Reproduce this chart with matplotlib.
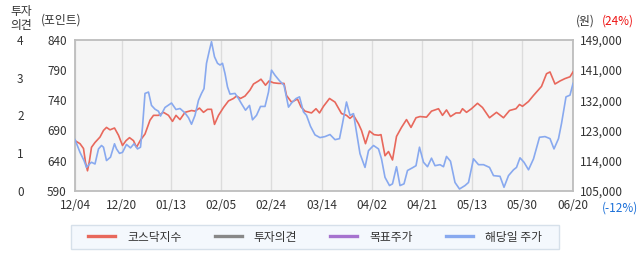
import matplotlib
matplotlib.use('Agg')
import matplotlib.pyplot as plt
from matplotlib.lines import Line2D
from matplotlib.patches import Rectangle

plt.rcParams['font.family'] = ['Noto Sans CJK KR', 'DejaVu Sans']

# x positions run 0..99.6 across the period (12/04 .. 06/20)
date_pos = [0, 9.3, 19.2, 29.2, 39.2, 49.4, 59.4, 69.4, 79.4, 89.4, 99.6]
date_labels = ['12/04', '12/20', '01/13', '02/05', '02/24', '03/14',
               '04/02', '04/21', '05/13', '05/30', '06/20']

# 코스닥지수 (points)
kosdaq_x = [0, 1, 1.7, 2.1, 2.5, 2.9, 3.3, 4, 5, 5.7, 6.3, 7, 7.9, 8.7, 9.5,
            10.2, 10.9, 11.7, 12.3, 13.1, 14, 15, 15.7, 16.7, 17.7, 18.7,
            19.5, 20.2, 21, 22, 23.3, 24, 24.9, 25.7, 26.5, 27.3, 27.9, 28.7,
            29.7, 30.7, 31.7, 32.3, 33.1, 34, 35, 35.7, 36.7, 37.2, 38.1,
            38.8, 39.7, 40.7, 41.8, 42.3, 43.3, 44.5, 45.2, 46, 47.3, 48.2,
            48.9, 49.7, 50.9, 52, 53.3, 54.3, 55, 55.7, 56.7, 57.3, 58.1,
            58.9, 59.8, 60.7, 61.2, 62, 62.7, 63.5, 64.3, 65.3, 66.3, 67.2,
            68.2, 69, 70.3, 71.3, 72.7, 73.5, 74.3, 75.1, 76.2, 77, 77.5,
            78.3, 79.3, 80.5, 81.5, 82.9, 84.3, 85.7, 86.9, 88.2, 88.9, 89.5,
            90.7, 91.7, 93.3, 94.3, 95, 96, 97, 98, 99, 99.6]
kosdaq = [673, 668, 660, 637, 623, 640, 662, 670, 679, 690, 695, 691, 694,
          682, 665, 673, 678, 673, 662, 674, 684, 707, 715, 715, 720, 715,
          705, 715, 708, 720, 723, 722, 727, 720, 725, 725, 700, 715, 728,
          739, 743, 747, 743, 747, 757, 767, 772, 775, 765, 772, 769, 768,
          768, 748, 737, 742, 729, 722, 719, 726, 719, 730, 743, 737, 718,
          715, 710, 715, 701, 690, 668, 689, 683, 682, 683, 648, 655, 641,
          680, 695, 708, 695, 711, 713, 712, 722, 726, 715, 724, 713, 719,
          719, 726, 720, 726, 735, 728, 711, 720, 711, 723, 726, 733, 730,
          738, 748, 763, 784, 787, 767, 772, 776, 779, 787]

# 해당일 주가 (won)
price_x = [0, 1, 1.8, 2.3, 2.9, 3.3, 4, 4.7, 5.3, 5.7, 6.3, 7.1, 7.9, 8.3,
           8.9, 9.5, 10.3, 11.1, 11.8, 12.5, 13.1, 13.5, 14, 14.7, 15.3, 16,
           16.7, 17.1, 18, 19.3, 20.2, 21, 22, 22.7, 23.3, 24, 24.7, 25.3,
           25.8, 26.3, 26.9, 27.3, 27.9, 28.5, 29, 29.5, 30, 30.5, 31, 32,
           32.7, 33.3, 34.1, 34.9, 35.5, 36.3, 37.1, 38, 38.7, 39.3, 40,
           40.9, 41.8, 42.7, 43.3, 44.2, 44.9, 45.7, 46.3, 47.1, 48, 49, 50,
           51, 52, 52.9, 53.5, 54.3, 55, 55.7, 56.3, 57, 58, 58.7, 59.7,
           60.7, 61.3, 62, 62.9, 63.5, 64.3, 65, 65.8, 66.5, 67.5, 68.2,
           68.9, 69.7, 70.5, 71.3, 72, 73, 73.7, 74.3, 75.1, 76, 76.9, 78,
           78.7, 79.7, 80.7, 81.7, 82.9, 83.7, 85, 85.8, 86.7, 87.7, 88.3,
           89, 89.8, 90.7, 91.7, 92.9, 94, 95, 95.8, 96.7, 97.3, 98.2, 99,
           99.6]
price = [119900, 116200, 113800, 111800, 112800, 113300, 112800, 117200,
         118200, 117700, 113800, 114800, 118700, 117200, 115900, 116200,
         118500, 117500, 118700, 117200, 117700, 123600, 133400, 133800,
         129900, 128800, 128200, 126800, 129300, 130600, 128700, 129000,
         127700, 126300, 124400, 127000, 131400, 133400, 134800, 142200,
         146100, 148500, 144100, 142200, 141700, 142200, 139200, 135300,
         133200, 133400, 131900, 130400, 128500, 129900, 125700, 127000,
         129600, 129600, 133800, 140200, 138700, 137100, 135800, 129400,
         130600, 131900, 132400, 128000, 127000, 123800, 121300, 120500,
         120800, 121400, 119900, 120200, 124600, 130900, 127000, 127500,
         122100, 115800, 111800, 116700, 118200, 117200, 114300, 108900,
         106500, 107000, 112000, 106500, 107000, 110900, 111700, 112300,
         117700, 113300, 112000, 114500, 112300, 112600, 112000, 115000,
         113600, 107400, 105500, 106500, 107400, 114300, 112600, 112600,
         111800, 109400, 109200, 106000, 109400, 111100, 111800, 114600,
         113300, 111100, 114300, 120600, 120800, 120200, 117200, 120200,
         124600, 132400, 132900, 136300]

kosdaq_ticks = [590, 640, 690, 740, 790, 840]
price_ticks = [105000, 113800, 122600, 131400, 140200, 149000]
price_labels = ['105,000', '114,000', '123,000', '132,000', '141,000', '149,000']
opinion_ticks = [0, 1, 2, 3, 4]

red = '#e8685c'
blue = '#88a9ef'
gray = '#888888'
purple = '#a673cf'
txt = '#333333'

fig = plt.figure(figsize=(6.42, 2.68), dpi=100)
ax = fig.add_axes([75 / 642, 1 - 190.7 / 268, 498 / 642, 150.7 / 268])
ax.set_facecolor('#f5f5f5')

ax.plot(kosdaq_x, kosdaq, color=red, lw=1.2, zorder=3)
ax.set_xlim(0, 99.6)
ax.set_ylim(590, 840)
ax.set_yticks(kosdaq_ticks)
ax.set_xticks(date_pos)
ax.set_xticklabels(date_labels)
ax.tick_params(axis='both', length=0, labelsize=8.5, colors=txt)
ax.tick_params(axis='y', pad=6)
ax.tick_params(axis='x', pad=6)
ax.grid(axis='x', color='#dcdcdc', lw=1)
for s in ax.spines.values():
    s.set_color('#bdbdbd')
    s.set_linewidth(1.3)

ax2 = ax.twinx()
ax2.plot(price_x, price, color=blue, lw=1.2, zorder=3)
ax2.set_ylim(105000, 149000)
ax2.set_yticks(price_ticks)
ax2.set_yticklabels(price_labels)
ax2.tick_params(axis='y', length=0, labelsize=8.5, colors=txt, pad=5)
for s in ax2.spines.values():
    s.set_visible(False)

# 투자의견 axis, far left
ax3 = ax.twinx()
ax3.set_ylim(0, 4)
ax3.set_yticks(opinion_ticks)
ax3.yaxis.set_ticks_position('left')
ax3.yaxis.set_label_position('left')
ax3.tick_params(axis='y', length=0, labelsize=8.5, colors=txt, pad=37)
for s in ax3.spines.values():
    s.set_visible(False)

# header / footer texts
fig.text(21 / 642, 1 - 12 / 268, '투자', ha='center', va='center', fontsize=8.5, color=txt)
fig.text(21 / 642, 1 - 25 / 268, '의견', ha='center', va='center', fontsize=8.5, color=txt)
fig.text(41 / 642, 1 - 20 / 268, '(포인트)', ha='left', va='center', fontsize=8.5, color=txt)
fig.text(576 / 642, 1 - 21 / 268, '(원)', ha='left', va='center', fontsize=8.5, color=txt)
fig.text(602 / 642, 1 - 21 / 268, '(24%)', ha='left', va='center', fontsize=8.5, color='#ee1111')
fig.text(602 / 642, 1 - 208 / 268, '(-12%)', ha='left', va='center', fontsize=8.5, color='#1a6fd8')

# legend box
fig.patches.append(Rectangle((71 / 642, 1 - 249 / 268), 488 / 642, 24 / 268,
                             transform=fig.transFigure, facecolor='#f4f8fd',
                             edgecolor='#d6e0ea', lw=1.0))

handles = [Line2D([], [], color=red, lw=2.4),
           Line2D([], [], color=gray, lw=2.4),
           Line2D([], [], color=purple, lw=2.4),
           Line2D([], [], color=blue, lw=2.4)]
names = ['코스닥지수', '투자의견', '목표주가', '해당일 주가']
leg = fig.legend(handles, names, ncol=4, loc='center',
                 bbox_to_anchor=(315 / 642, 1 - 237 / 268),
                 fontsize=8.5, handlelength=2.3, handletextpad=1.0,
                 columnspacing=2.8, frameon=False, labelcolor=txt)

fig.savefig('out.png', dpi=100)
